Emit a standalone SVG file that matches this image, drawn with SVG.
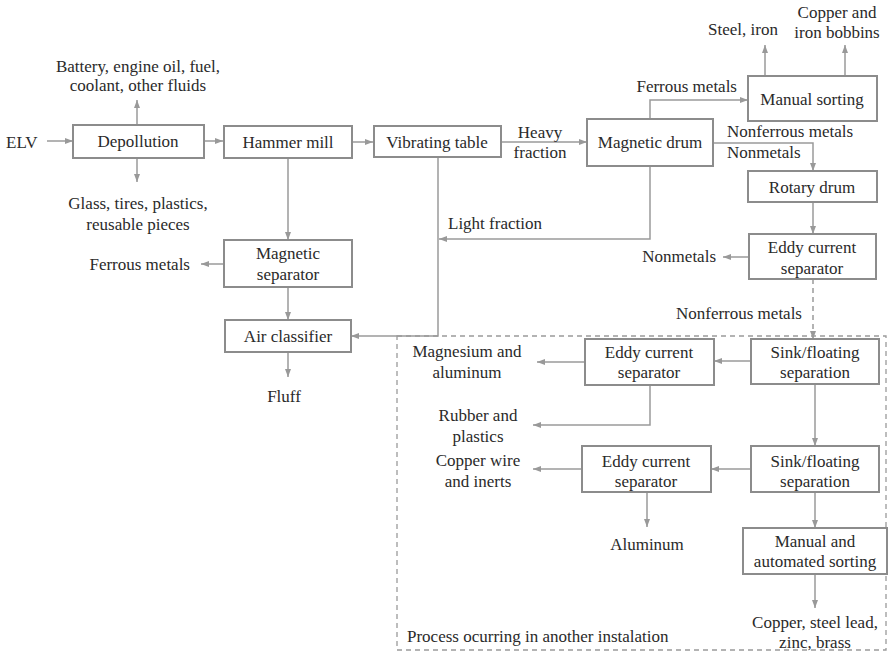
<svg xmlns="http://www.w3.org/2000/svg" width="889" height="652" viewBox="0 0 889 652">
  <defs>
    <marker id="arrow" viewBox="0 0 8 6" refX="8" refY="3" markerWidth="8" markerHeight="6" markerUnits="userSpaceOnUse" orient="auto">
      <path d="M0,0 L8,3 L0,6 Z" fill="#999"/>
    </marker>
    <style>
      .t { font-family: 'Liberation Serif', 'DejaVu Serif', serif; font-size: 17px; fill: #2a2a2a; }
      .c { text-anchor: middle; }
      .e { text-anchor: end; }
      .box { fill: #fff; stroke: #8c8c8c; stroke-width: 2; }
      .link { fill: none; stroke: #9a9a9a; stroke-width: 1.5; marker-end: url(#arrow); }
      .dash { stroke-dasharray: 5 4; }
      .region { fill: none; stroke: #9a9a9a; stroke-width: 1.3; stroke-dasharray: 5 4; }
    </style>
  </defs>
  <rect width="889" height="652" fill="#fff"/>

  <!-- area handled at a separate plant -->
  <g id="external-plant">
    <rect class="region" x="397" y="336" width="489" height="314"/>
    <text class="t" font-family="Liberation Serif, serif" x="407" y="642">Process ocurring in another instalation</text>
  </g>

  <!-- connectors -->
  <g id="connectors">
    <path class="link" d="M47,141 H73"/>
    <path class="link" d="M137,125 V100"/>
    <path class="link" d="M137,158 V182"/>
    <path class="link" d="M204,141 H223"/>
    <path class="link" d="M352,142 H373"/>
    <path class="link" d="M288,158 V240"/>
    <path class="link" d="M224,264 H201"/>
    <path class="link" d="M288,287 V320"/>
    <path class="link" d="M288,352 V377"/>
    <path class="link" d="M438,157 V336 H351"/>
    <path class="link" d="M501,142 H587"/>
    <path class="link" d="M650,166 V239 H439"/>
    <path class="link" d="M650,119 V100 H748"/>
    <path class="link" d="M713,143 H813 V171"/>
    <path class="link" d="M765,76 V45"/>
    <path class="link" d="M845,76 V45"/>
    <path class="link" d="M813,202 V234"/>
    <path class="link" d="M749,257 H723"/>
    <path class="link dash" d="M813,279 V339"/>
    <path class="link" d="M751,361 H714"/>
    <path class="link" d="M585,362 H537"/>
    <path class="link" d="M650,385 V425 H533"/>
    <path class="link" d="M815,384 V446"/>
    <path class="link" d="M751,469 H711"/>
    <path class="link" d="M582,469 H533"/>
    <path class="link" d="M647,492 V527"/>
    <path class="link" d="M815,492 V528"/>
    <path class="link" d="M815,574 V608"/>
  </g>

  <!-- process nodes -->
  <g id="depollution">
    <rect class="box" x="73" y="125" width="131" height="33"/>
    <text class="t c" x="138" y="147">Depollution</text>
  </g>
  <g id="hammer-mill">
    <rect class="box" x="224" y="126" width="128" height="32"/>
    <text class="t c" x="288" y="148">Hammer mill</text>
  </g>
  <g id="vibrating-table">
    <rect class="box" x="374" y="126" width="127" height="31"/>
    <text class="t c" x="437" y="148">Vibrating table</text>
  </g>
  <g id="magnetic-drum">
    <rect class="box" x="587" y="119" width="126" height="47"/>
    <text class="t c" x="650" y="148">Magnetic drum</text>
  </g>
  <g id="manual-sorting">
    <rect class="box" x="748" y="76" width="129" height="45"/>
    <text class="t c" x="812" y="105">Manual sorting</text>
  </g>
  <g id="rotary-drum">
    <rect class="box" x="748" y="171" width="129" height="31"/>
    <text class="t c" x="812" y="193">Rotary drum</text>
  </g>
  <g id="eddy-current-1">
    <rect class="box" x="749" y="234" width="127" height="45"/>
    <text class="t c" x="812" y="253">Eddy current</text>
    <text class="t c" x="812" y="274">separator</text>
  </g>
  <g id="magnetic-separator">
    <rect class="box" x="224" y="240" width="128" height="47"/>
    <text class="t c" x="288" y="259">Magnetic</text>
    <text class="t c" x="288" y="280">separator</text>
  </g>
  <g id="air-classifier">
    <rect class="box" x="225" y="320" width="126" height="32"/>
    <text class="t c" x="288" y="342">Air classifier</text>
  </g>
  <g id="sink-floating-1">
    <rect class="box" x="751" y="339" width="128" height="45"/>
    <text class="t c" x="815" y="358">Sink/floating</text>
    <text class="t c" x="815" y="378">separation</text>
  </g>
  <g id="eddy-current-2">
    <rect class="box" x="585" y="339" width="129" height="46"/>
    <text class="t c" x="649" y="358">Eddy current</text>
    <text class="t c" x="649" y="378">separator</text>
  </g>
  <g id="sink-floating-2">
    <rect class="box" x="751" y="446" width="128" height="46"/>
    <text class="t c" x="815" y="467">Sink/floating</text>
    <text class="t c" x="815" y="487">separation</text>
  </g>
  <g id="eddy-current-3">
    <rect class="box" x="582" y="446" width="129" height="46"/>
    <text class="t c" x="646" y="467">Eddy current</text>
    <text class="t c" x="646" y="487">separator</text>
  </g>
  <g id="manual-automated-sorting">
    <rect class="box" x="743" y="528" width="144" height="46"/>
    <text class="t c" x="815" y="547">Manual and</text>
    <text class="t c" x="815" y="567">automated sorting</text>
  </g>

  <!-- inputs, outputs and flow labels -->
  <g id="labels">
    <text class="t" x="6" y="148">ELV</text>
    <text class="t c" x="138" y="72">Battery, engine oil, fuel,</text>
    <text class="t c" x="138" y="91">coolant, other fluids</text>
    <text class="t c" x="138" y="209">Glass, tires, plastics,</text>
    <text class="t c" x="138" y="230">reusable pieces</text>
    <text class="t e" x="190" y="270">Ferrous metals</text>
    <text class="t c" x="284" y="402">Fluff</text>
    <text class="t c" x="540" y="138">Heavy</text>
    <text class="t c" x="540" y="158">fraction</text>
    <text class="t" x="448" y="229">Light fraction</text>
    <text class="t e" x="737" y="92">Ferrous metals</text>
    <text class="t c" x="743" y="35">Steel, iron</text>
    <text class="t c" x="837" y="18">Copper and</text>
    <text class="t c" x="837" y="38">iron bobbins</text>
    <text class="t" x="727" y="137">Nonferrous metals</text>
    <text class="t" x="727" y="158">Nonmetals</text>
    <text class="t e" x="716" y="262">Nonmetals</text>
    <text class="t e" x="802" y="319">Nonferrous metals</text>
    <text class="t c" x="467" y="357">Magnesium and</text>
    <text class="t c" x="467" y="378">aluminum</text>
    <text class="t c" x="478" y="421">Rubber and</text>
    <text class="t c" x="478" y="442">plastics</text>
    <text class="t c" x="478" y="466">Copper wire</text>
    <text class="t c" x="478" y="487">and inerts</text>
    <text class="t c" x="647" y="550">Aluminum</text>
    <text class="t c" x="815" y="628">Copper, steel lead,</text>
    <text class="t c" x="815" y="648">zinc, brass</text>
  </g>
</svg>
